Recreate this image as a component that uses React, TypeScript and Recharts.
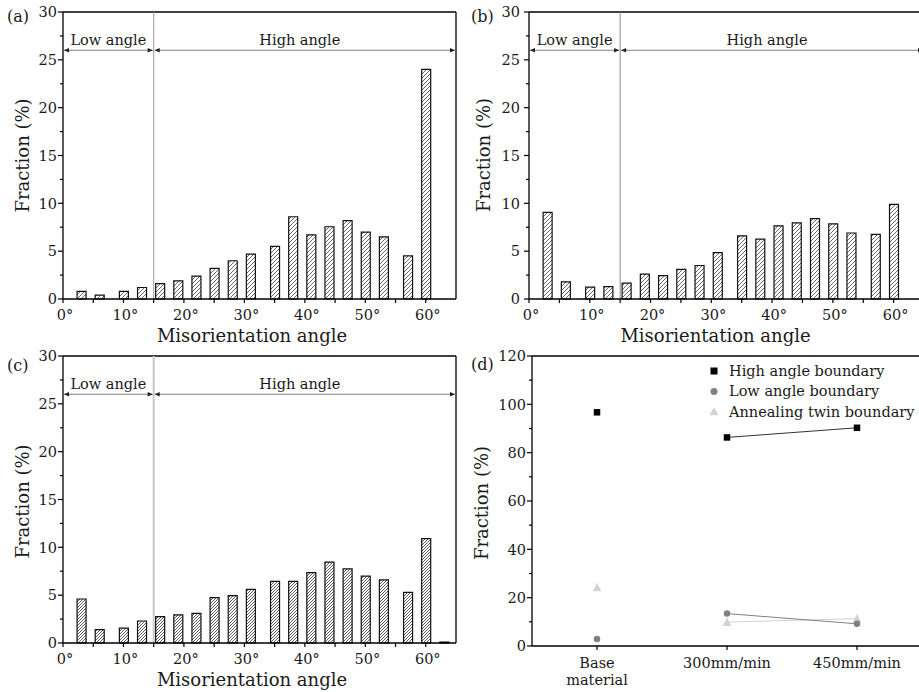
import React from 'react';
import { ComposedChart, Bar, XAxis, YAxis, ReferenceLine, Line, Legend } from 'recharts';

const FONT = "'DejaVu Serif', 'Liberation Serif', serif";
const TEXT = '#1a1a1a';

// ---- histogram data (misorientation angle, degrees) ----
const angleBins = [3, 6, 10, 13, 16, 19, 22, 25, 28, 31, 35, 38, 41, 44, 47, 50, 53, 57, 60];
const angleBinsC = [3, 6, 10, 13, 16, 19, 22, 25, 28, 31, 35, 38, 41, 44, 47, 50, 53, 57, 60, 63];
const fractionA = [0.8, 0.4, 0.8, 1.2, 1.6, 1.9, 2.4, 3.2, 4.0, 4.7, 5.5, 8.6, 6.7, 7.55, 8.2, 7.0, 6.5, 4.5, 24.0];
const fractionB = [9.05, 1.8, 1.25, 1.3, 1.65, 2.6, 2.45, 3.1, 3.5, 4.85, 6.6, 6.25, 7.65, 7.95, 8.4, 7.85, 6.9, 6.75, 9.9];
const fractionC = [4.6, 1.4, 1.55, 2.3, 2.75, 2.95, 3.1, 4.75, 4.95, 5.6, 6.45, 6.45, 7.35, 8.45, 7.75, 7.0, 6.6, 5.3, 10.9, 0.1];
const angleTicks = [0, 5, 10, 15, 20, 25, 30, 35, 40, 45, 50, 55, 60];
const fractionTicks = [0, 2.5, 5, 7.5, 10, 12.5, 15, 17.5, 20, 22.5, 25, 27.5, 30];
const angleDomain = [0, 65];
const fractionDomain = [0, 30];
const boundaryAngle = 15;
const arrowLevel = 26;

// ---- panel (d) data ----
const conditions = ['Base material', '300mm/min', '450mm/min'];
const highAngleBoundary = [96.7, 86.3, 90.3];
const lowAngleBoundary = [2.9, 13.4, 9.2];
const twinBoundary = [24.2, 9.9, 11.3];
const boundaryTicks = [0, 10, 20, 30, 40, 50, 60, 70, 80, 90, 100, 110, 120];

const boundarySeries = [
  { key: 'twin', name: 'Annealing twin boundary', color: '#d2d2d2', shape: 'triangle', values: twinBoundary },
  { key: 'low', name: 'Low angle boundary', color: '#808080', shape: 'circle', values: lowAngleBoundary },
  { key: 'high', name: 'High angle boundary', color: '#000000', shape: 'square', values: highAngleBoundary },
];
const legendOrder = ['high', 'low', 'twin'];

const isMajor = (v: number, step: number) => Math.abs(v / step - Math.round(v / step)) < 1e-6;

const makeYTick = (step: number, gap: number) => (props: any) => {
  const { x, y, payload } = props;
  const v = payload.value;
  const major = isMajor(v, step);
  return (
    <g>
      <line x1={x} x2={x - (major ? 5 : 3)} y1={y} y2={y} stroke="#000" strokeWidth={1.2} />
      {major && (
        <text x={x - gap} y={y + 5.3} textAnchor="end" fontSize={14.5} fontFamily={FONT} fill={TEXT}>
          {v}
        </text>
      )}
    </g>
  );
};

const angleXTick = (props: any) => {
  const { x, y, payload } = props;
  const v = payload.value;
  return (
    <g>
      <line x1={x} x2={x} y1={y} y2={y + 4} stroke="#000" strokeWidth={1.2} />
      {isMajor(v, 10) && (
        <text x={x + 2} y={y + 21} textAnchor="middle" fontSize={14.5} fontFamily={FONT} fill={TEXT}>
          {`${v}°`}
        </text>
      )}
    </g>
  );
};

const conditionXTick = (props: any) => {
  const { x, y, payload } = props;
  const words = String(payload.value).split(' ');
  return (
    <g>
      <line x1={x} x2={x} y1={y} y2={y + 4} stroke="#000" strokeWidth={1.2} />
      {words.map((w, i) => (
        <text key={i} x={x} y={y + 22 + i * 17} textAnchor="middle" fontSize={14.5} fontFamily={FONT} fill={TEXT}>
          {w}
        </text>
      ))}
    </g>
  );
};

const arrowShape = (label: string, dx: number) => (p: any) => {
  const { x1, y1, x2 } = p;
  const a = x1 + 1;
  const b = x2 - 1;
  return (
    <g>
      <line x1={a} y1={y1} x2={b} y2={y1} stroke="#808080" strokeWidth={1} />
      <polygon points={`${a},${y1} ${a + 5},${y1 - 2.2} ${a + 5},${y1 + 2.2}`} fill="#222" />
      <polygon points={`${b},${y1} ${b - 5},${y1 - 2.2} ${b - 5},${y1 + 2.2}`} fill="#222" />
      <text x={(a + b) / 2 + dx} y={y1 - 5} textAnchor="middle" fontSize={14.5} fontFamily={FONT} fill={TEXT}>
        {label}
      </text>
    </g>
  );
};

type HistProps = {
  bins: number[];
  values: number[];
  hatch: string;
  left: number;
  top: number;
  width: number;
  height: number;
  marginTop: number;
  yAxisWidth: number;
  xAxisHeight: number;
  yGap: number;
  refColor: string;
  refWidth: number;
};

function HistPanel(p: HistProps) {
  const data = p.bins.map((angle, i) => ({ angle, fraction: p.values[i] }));
  return (
    <div style={{ position: 'absolute', left: p.left, top: p.top }}>
      <ComposedChart
        width={p.width}
        height={p.height}
        data={data}
        margin={{ top: p.marginTop, right: 4, bottom: 0, left: 0 }}
      >
        <XAxis
          type="number"
          dataKey="angle"
          domain={angleDomain}
          ticks={angleTicks}
          interval={0}
          height={p.xAxisHeight}
          tickLine={false}
          tickSize={0}
          tickMargin={0}
          axisLine={{ stroke: '#000', strokeWidth: 1.3 }}
          tick={angleXTick}
        />
        <YAxis
          type="number"
          domain={fractionDomain}
          ticks={fractionTicks}
          interval={0}
          width={p.yAxisWidth}
          tickLine={false}
          tickSize={0}
          tickMargin={0}
          axisLine={{ stroke: '#000', strokeWidth: 1.3 }}
          tick={makeYTick(5, p.yGap)}
        />
        <ReferenceLine y={fractionDomain[1]} stroke="#000" strokeWidth={1.3} />
        <ReferenceLine x={angleDomain[1]} stroke="#000" strokeWidth={1.3} />
        <ReferenceLine x={boundaryAngle} stroke={p.refColor} strokeWidth={p.refWidth} />
        <ReferenceLine
          segment={[{ x: angleDomain[0], y: arrowLevel }, { x: boundaryAngle, y: arrowLevel }]}
          shape={arrowShape('Low angle', 0)}
        />
        <ReferenceLine
          segment={[{ x: boundaryAngle, y: arrowLevel }, { x: angleDomain[1], y: arrowLevel }]}
          shape={arrowShape('High angle', -5)}
        />
        <Bar
          dataKey="fraction"
          barSize={9}
          fill={`url(#${p.hatch})`}
          stroke="#111"
          strokeWidth={1.2}
          isAnimationActive={false}
        />
      </ComposedChart>
    </div>
  );
}

const markerDot = (shape: string, color: string, size: number) => (props: any) => {
  const { cx, cy, index } = props;
  if (cx == null || cy == null || Number.isNaN(cy)) return <g key={`e${index}`} />;
  if (shape === 'square')
    return <rect key={`s${index}`} x={cx - size / 2} y={cy - size / 2} width={size} height={size} fill={color} />;
  if (shape === 'circle') return <circle key={`c${index}`} cx={cx} cy={cy} r={size / 2} fill={color} />;
  const h = size * 0.9;
  return (
    <polygon
      key={`t${index}`}
      points={`${cx},${cy - h / 2 - 1} ${cx - size / 2},${cy + h / 2} ${cx + size / 2},${cy + h / 2}`}
      fill={color}
    />
  );
};

const legendIcon = (shape: string, color: string) => {
  if (shape === 'square') return <rect x={2.5} y={-3.5} width={7} height={7} fill={color} />;
  if (shape === 'circle') return <circle cx={6} cy={0} r={3.5} fill={color} />;
  return <polygon points="6,-4.5 1.5,3.5 10.5,3.5" fill={color} />;
};

const BoundaryLegend = () => (
  <svg width={210} height={64} style={{ display: 'block' }}>
    {legendOrder.map((k, i) => {
      const s = boundarySeries.find((b) => b.key === k)!;
      return (
        <g key={k} transform={`translate(0, ${10 + i * 20.4})`}>
          {legendIcon(s.shape, s.color)}
          <text x={21} y={5} fontSize={14.5} fontFamily={FONT} fill={TEXT}>
            {s.name}
          </text>
        </g>
      );
    })}
  </svg>
);

function BoundaryPanel() {
  const data = conditions.map((condition, i) => {
    const row: any = { condition };
    boundarySeries.forEach((s) => {
      row[s.key] = s.values[i];
      row[`${s.key}Seg`] = i === 0 ? null : s.values[i];
    });
    return row;
  });
  return (
    <div style={{ position: 'absolute', left: 460, top: 340 }}>
      <ComposedChart width={470} height={352} data={data} margin={{ top: 16, right: 8, bottom: 0, left: 0 }}>
        <XAxis
          dataKey="condition"
          type="category"
          interval={0}
          height={46}
          padding={{ left: 65, right: 65 }}
          tickLine={false}
          tickSize={0}
          tickMargin={0}
          axisLine={{ stroke: '#000', strokeWidth: 1.3 }}
          tick={conditionXTick}
        />
        <YAxis
          type="number"
          domain={[0, 120]}
          ticks={boundaryTicks}
          interval={0}
          width={72}
          tickLine={false}
          tickSize={0}
          tickMargin={0}
          axisLine={{ stroke: '#000', strokeWidth: 1.3 }}
          tick={makeYTick(20, 6)}
        />
        <ReferenceLine y={120} stroke="#000" strokeWidth={1.3} />
        {boundarySeries.map((s) => (
          <Line
            key={`${s.key}Seg`}
            dataKey={`${s.key}Seg`}
            stroke={s.key === 'high' ? '#333' : s.color}
            strokeWidth={1}
            dot={false}
            activeDot={false}
            connectNulls={false}
            legendType="none"
            isAnimationActive={false}
          />
        ))}
        {boundarySeries.map((s) => (
          <Line
            key={s.key}
            dataKey={s.key}
            name={s.name}
            stroke="none"
            dot={markerDot(s.shape, s.color, s.shape === 'triangle' ? 8.5 : 6.5)}
            activeDot={false}
            isAnimationActive={false}
          />
        ))}
        <Legend
          layout="vertical"
          align="center"
          verticalAlign="middle"
          content={() => <BoundaryLegend />}
          wrapperStyle={{ position: 'absolute', left: 248, top: 21, width: 210, height: 64 }}
        />
      </ComposedChart>
    </div>
  );
}

const panelLabels = [
  { text: '(a)', x: 7, y: 21.5 },
  { text: '(b)', x: 471, y: 21.5 },
  { text: '(c)', x: 7, y: 370.5 },
  { text: '(d)', x: 471, y: 369.5 },
];
const yTitles = [
  { x: 29, y: 155.5 },
  { x: 490, y: 155 },
  { x: 29, y: 501.5 },
  { x: 488, y: 503 },
];
const xTitles = [
  { x: 252, y: 342 },
  { x: 715.5, y: 342 },
  { x: 252, y: 686 },
];

export default function App() {
  return (
    <div
      style={{
        position: 'absolute',
        left: 0,
        top: 0,
        width: 919,
        height: 692,
        overflow: 'hidden',
        background: '#fff',
        fontFamily: FONT,
      }}
    >
      <svg width={0} height={0} style={{ position: 'absolute' }}>
        <defs>
          <pattern id="hatchA" patternUnits="userSpaceOnUse" width={4} height={4}>
            <path d="M-1,1 l2,-2 M0,4 l4,-4 M3,5 l2,-2" stroke="#444" strokeWidth={0.8} />
          </pattern>
          <pattern id="hatchC" patternUnits="userSpaceOnUse" width={3} height={3}>
            <path d="M-1,1 l2,-2 M0,3 l3,-3 M2,4 l2,-2" stroke="#333" strokeWidth={0.8} />
          </pattern>
        </defs>
      </svg>
      <HistPanel
        bins={angleBins}
        values={fractionA}
        hatch="hatchA"
        left={0}
        top={0}
        width={460}
        height={345}
        marginTop={12}
        yAxisWidth={63}
        xAxisHeight={46}
        yGap={6}
        refColor="#9a9a9a"
        refWidth={1}
      />
      <HistPanel
        bins={angleBins}
        values={fractionB}
        hatch="hatchA"
        left={460}
        top={0}
        width={468}
        height={345}
        marginTop={12}
        yAxisWidth={69}
        xAxisHeight={46}
        yGap={9}
        refColor="#8a8a8a"
        refWidth={1}
      />
      <HistPanel
        bins={angleBinsC}
        values={fractionC}
        hatch="hatchC"
        left={0}
        top={340}
        width={460}
        height={352}
        marginTop={16}
        yAxisWidth={63}
        xAxisHeight={49}
        yGap={6}
        refColor="#c8c8c8"
        refWidth={2}
      />
      <BoundaryPanel />
      <svg
        width={919}
        height={692}
        style={{ position: 'absolute', left: 0, top: 0, pointerEvents: 'none' }}
      >
        {panelLabels.map((l) => (
          <text key={l.text} x={l.x} y={l.y} fontSize={16} fontFamily={FONT} fill={TEXT}>
            {l.text}
          </text>
        ))}
        {yTitles.map((t, i) => (
          <text
            key={`y${i}`}
            x={t.x}
            y={t.y}
            transform={`rotate(-90 ${t.x} ${t.y})`}
            textAnchor="middle"
            fontSize={18}
            fontFamily={FONT}
            fill={TEXT}
          >
            Fraction (%)
          </text>
        ))}
        {xTitles.map((t, i) => (
          <text key={`x${i}`} x={t.x} y={t.y} textAnchor="middle" fontSize={18} fontFamily={FONT} fill={TEXT}>
            Misorientation angle
          </text>
        ))}
      </svg>
    </div>
  );
}
